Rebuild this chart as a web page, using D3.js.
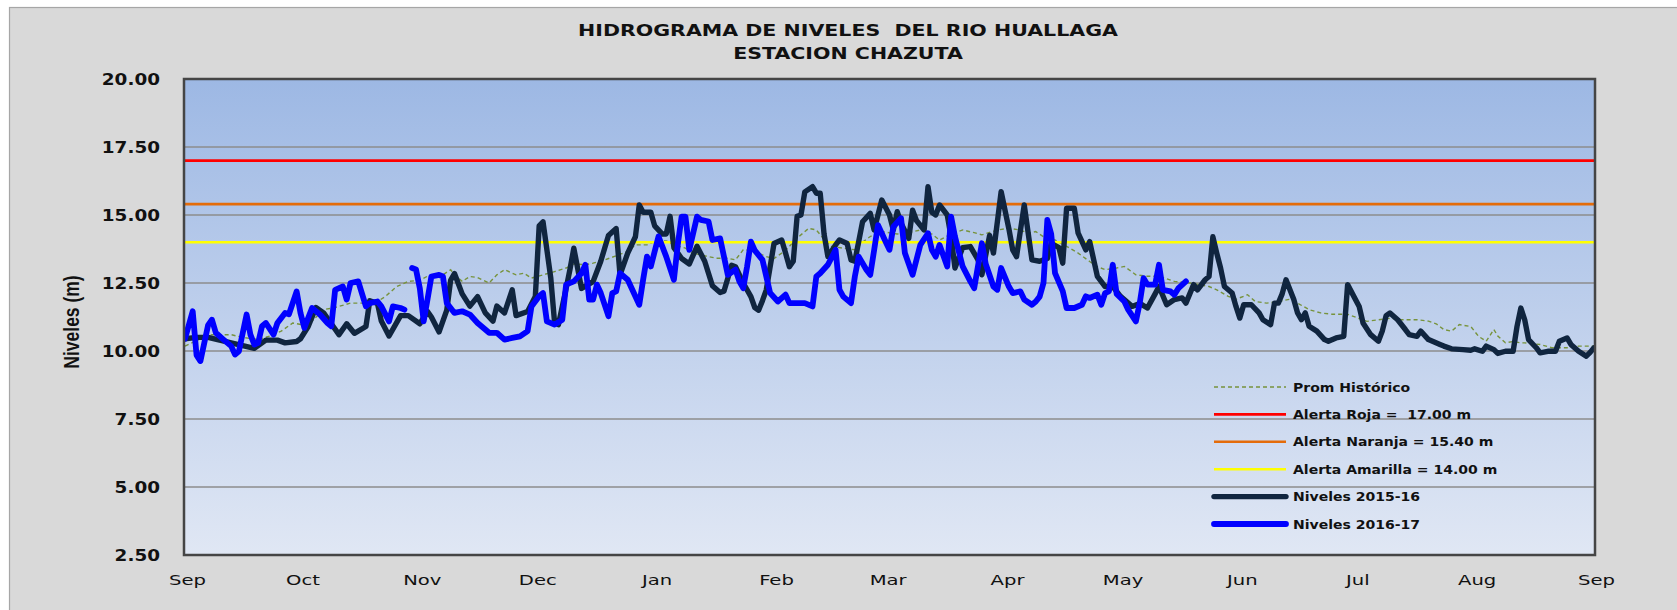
<!DOCTYPE html>
<html>
<head>
<meta charset="utf-8">
<script src="https://cdn.jsdelivr.net/npm/d3@7"></script>
<style>
  body { margin: 0; background: #ffffff; }
  svg { display: block; }
</style>
</head>
<body>
<script>
'use strict';

// ---- values ----
const titulo = ["HIDROGRAMA DE NIVELES  DEL RIO HUALLAGA", "ESTACION CHAZUTA"];
const ejeY = "Niveles (m)";
const inicio = new Date(2015, 8, 1);   // 1 Sep 2015
const fin = new Date(2016, 8, 1);      // 1 Sep 2016
const yTicks = [2.5, 5, 7.5, 10, 12.5, 15, 17.5, 20];

const alertas = [17.0, 15.4, 14.0];
const alertaColores = ["#ff0000", "#e46c0a", "#ffff00"];

const leyenda = ["Prom Histórico", "Alerta Roja =  17.00 m", "Alerta Naranja = 15.40 m",
                 "Alerta Amarilla = 14.00 m", "Niveles 2015-16", "Niveles 2016-17"];

// days counted from 1 Sep of each hydrological year
const diasProm = [0,4,7,12,15,19,22,25,28,31,33,36,39,43,46,50,52,55,58,61,63,65,67,69,70,72,74,76,79,81,83,86,88,90,93,96,99,101,104,106,109,112,115,117,120,122,125,127,130,132,135,138,141,143,145,147,149,151,153,156,158,160,162,164,166,168,171,174,176,178,181,185,188,191,194,196,199,202,205,207,211,214,217,219,221,223,226,229,232,235,237,239,242,244,247,250,253,257,261,263,266,268,271,273,276,278,281,284,287,289,292,295,298,302,307,310,313,316,320,323,325,327,329,331,334,336,338,340,341,343,345,347,348,352,355,359,362,366];
const promHistorico = [10.18,10.45,10.6,10.6,10.5,10.42,10.55,10.73,11.03,10.95,11.1,11.52,11.6,11.76,11.76,11.82,12.0,12.37,12.56,12.6,12.75,12.8,12.8,12.99,12.8,12.56,12.74,12.7,12.5,12.8,12.99,12.8,12.86,12.68,12.8,12.92,13.05,13.2,13.17,13.23,13.35,13.5,13.66,13.9,13.9,14.02,14.05,13.9,13.78,13.6,13.5,13.41,13.41,13.35,13.72,13.7,13.6,13.47,13.4,13.7,14.0,14.27,14.51,14.45,14.1,13.84,13.78,13.72,14.0,14.21,14.39,14.3,14.35,14.45,14.3,14.08,14.3,14.45,14.35,14.27,14.45,14.51,14.45,14.33,14.39,14.2,14.08,13.85,13.6,13.29,13.1,12.99,13.05,13.11,12.8,12.75,12.75,12.56,12.5,12.45,12.37,12.25,12.01,11.9,12.07,11.82,11.76,11.82,11.9,11.76,11.52,11.4,11.35,11.35,11.09,11.15,11.2,11.15,11.15,11.1,11.0,10.79,10.73,10.97,10.9,10.54,10.36,10.79,10.55,10.3,10.35,10.3,10.3,10.24,10.12,10.12,10.18,10.18];

const dias1516 = [0,3,6,9,12,15,18,21,24,26,29,30,32,34,36,38,40,42,44,47,48,50,51,53,56,58,61,63,64,66,68,69,70,72,74,76,78,80,81,83,85,86,89,91,92,93,95,96,97,99,100,101,103,106,108,110,112,113,115,117,118,119,121,122,124,125,126,127,129,131,133,135,137,139,140,142,143,145,147,148,149,150,151,153,155,156,157,158,159,160,161,163,164,165,166,167,169,170,172,173,174,176,178,179,181,183,184,185,186,188,189,190,192,193,194,195,196,198,199,200,202,204,206,207,209,210,212,214,215,216,218,220,222,224,225,227,228,229,231,232,234,235,237,239,241,243,246,248,250,252,253,255,257,259,260,262,263,265,266,267,268,269,270,272,273,274,275,277,279,280,282,283,284,285,286,288,289,290,291,292,294,296,297,299,301,302,305,306,308,310,311,312,313,315,317,318,320,321,323,326,327,329,332,334,335,337,338,340,341,343,345,346,347,348,349,351,352,354,356,357,359,360,362,364,365,366];
const niveles1516 = [10.45,10.5,10.5,10.4,10.3,10.2,10.1,10.4,10.4,10.3,10.35,10.45,10.9,11.6,11.4,11.0,10.6,11.0,10.65,10.9,11.85,11.75,11.1,10.55,11.3,11.3,11.0,11.45,11.25,10.7,11.5,12.6,12.85,12.1,11.65,12.0,11.4,11.1,11.65,11.4,12.25,11.3,11.45,12.0,14.6,14.75,12.7,11.05,10.97,12.3,13.0,13.78,12.3,12.55,13.3,14.25,14.5,12.8,13.6,14.2,15.37,15.1,15.1,14.6,14.3,14.3,14.95,13.8,13.4,13.2,13.85,13.3,12.4,12.15,12.2,13.15,13.1,12.5,12.0,11.6,11.5,11.85,12.25,13.95,14.08,13.6,13.1,13.3,14.95,15.0,15.85,16.04,15.8,15.8,14.3,13.47,13.9,14.08,13.95,13.35,13.3,14.75,15.06,14.45,15.55,15.0,14.45,15.12,14.7,14.14,15.18,14.8,14.45,16.04,15.1,15.0,15.37,15.0,14.2,13.05,13.8,13.84,13.35,12.8,14.25,13.6,15.86,14.5,13.72,13.47,15.37,13.35,13.3,13.4,13.96,13.8,13.23,15.25,15.25,14.33,13.72,14.02,12.74,12.37,12.37,12.01,11.64,11.75,11.58,12.1,12.37,11.7,11.89,11.95,11.76,12.44,12.25,12.62,12.74,14.2,13.6,13.05,12.37,12.13,11.64,11.21,11.7,11.7,11.4,11.15,10.97,11.76,11.76,12.1,12.62,11.9,11.4,11.15,11.4,10.91,10.73,10.42,10.36,10.48,10.54,12.44,11.64,11.03,10.6,10.36,10.73,11.3,11.4,11.15,10.79,10.6,10.54,10.73,10.42,10.24,10.18,10.08,10.05,10.03,10.08,9.99,10.18,10.05,9.91,9.99,9.99,10.9,11.58,11.15,10.42,10.12,9.93,9.99,9.99,10.36,10.48,10.24,9.99,9.81,9.95,10.12];

const dias1617 = [0,2,3,4,6,7,8,10,12,13,14,16,17,18,19,20,21,23,24,26,27,29,30,31,33,35,37,38,39,41,42,43,45,47,48,50,51,53,54,56,57,58,59,60,61,62,63,64,66,67,68,70,72,74,76,79,81,83,85,87,89,90,92,93,94,96,98,99,101,103,104,105,106,107,108,110,111,112,113,115,118,119,120,121,123,125,127,128,129,130,131,133,134,136,137,139,140,141,143,144,145,146,147,148,150,151,152,154,156,157,160,161,163,164,165,167,169,170,171,173,174,175,177,178,179,180,182,183,184,186,187,189,190,191,193,194,195,196,198,199,200,202,204,205,207,208,210,211,212,214,215,217,218,220,221,222,223,224,225,226,228,229,231,233,234,235,237,238,239,240,241,242,244,245,247,248,249,250,252,253,254,256,257,258,260];
const niveles1617 = [10.45,11.46,9.85,9.63,10.95,11.15,10.67,10.42,10.18,9.87,9.99,11.34,10.6,10.24,10.3,10.91,11.03,10.6,11.03,11.4,11.35,12.19,11.4,10.85,11.58,11.35,11.03,10.91,12.25,12.37,11.89,12.5,12.56,11.64,11.76,11.82,11.64,11.09,11.64,11.58,11.52,null,13.05,13.0,12.3,11.09,11.9,12.74,12.8,12.74,11.76,11.4,11.46,11.34,11.03,10.67,10.67,10.42,10.48,10.54,10.73,11.64,12.01,12.13,11.09,10.97,11.15,12.44,12.56,12.86,13.17,11.89,11.89,12.44,12.13,11.28,12.13,12.19,12.86,12.62,11.7,12.62,13.47,13.11,14.21,13.47,12.62,13.9,14.94,14.94,13.72,14.94,14.82,14.76,14.08,14.14,13.47,12.8,12.99,12.56,12.31,13.1,14.02,13.7,13.35,12.74,12.13,11.82,12.07,11.76,11.76,11.76,11.64,12.74,12.86,13.17,13.72,12.25,12.0,11.76,12.74,13.47,12.99,12.8,13.7,14.63,14.02,13.72,14.57,14.88,13.6,12.8,13.35,13.9,14.33,13.72,13.47,13.9,13.11,14.94,14.21,13.11,12.56,12.31,13.96,13.2,12.37,12.25,13.05,12.37,12.13,12.19,11.89,11.7,11.82,12.0,12.5,14.82,14.3,12.86,12.2,11.58,11.58,11.7,12.01,11.95,12.07,11.7,12.13,12.19,13.17,12.1,11.82,11.52,11.09,11.76,12.68,12.44,12.44,13.17,12.25,12.19,12.07,12.3,12.56];

// ---- layout ----
const W = 1677, H = 610;
const plot = { left: 184, top: 79, right: 1595, bottom: 555 };

const svg = d3.select('body').append('svg')
  .attr('width', W)
  .attr('height', H);

// grey chart panel
svg.append('rect')
  .attr('x', 9.5).attr('y', 7.5)
  .attr('width', W).attr('height', H)
  .style('fill', '#d9d9d9')
  .style('stroke', '#a6a6a6')
  .style('stroke-width', 1.2);

const defs = svg.append('defs');
const grad = defs.append('linearGradient')
  .attr('id', 'fondo')
  .attr('x1', 0).attr('y1', 0).attr('x2', 0).attr('y2', 1);
grad.append('stop').attr('offset', '0%').attr('stop-color', '#9db8e4');
grad.append('stop').attr('offset', '100%').attr('stop-color', '#e0e7f4');

defs.append('clipPath').attr('id', 'recorte')
  .append('rect')
  .attr('x', plot.left).attr('y', plot.top)
  .attr('width', plot.right - plot.left)
  .attr('height', plot.bottom - plot.top);

// scales
const x = d3.scaleTime().domain([inicio, fin]).range([plot.left + 1, plot.right - 1]);
const y = d3.scaleLinear().domain([2.5, 20]).range([plot.bottom, plot.top]);

// plot background
svg.append('rect')
  .attr('x', plot.left).attr('y', plot.top)
  .attr('width', plot.right - plot.left)
  .attr('height', plot.bottom - plot.top)
  .style('fill', 'url(#fondo)');

// gridlines
svg.append('g').selectAll('line')
  .data(yTicks)
  .enter().append('line')
  .attr('x1', plot.left).attr('x2', plot.right)
  .attr('y1', d => y(d)).attr('y2', d => y(d))
  .style('stroke', '#8c8c8c')
  .style('stroke-width', 1.4);

// series helpers
function serie(dias, valores) {
  return dias.map((d, i) => ({ fecha: d3.timeDay.offset(inicio, d), v: valores[i] }));
}
const linea = d3.line()
  .defined(d => d.v !== null)
  .x(d => x(d.fecha))
  .y(d => y(d.v));

const capa = svg.append('g').attr('clip-path', 'url(#recorte)');

// historical average (dashed)
capa.append('path')
  .datum(serie(diasProm, promHistorico))
  .attr('d', linea)
  .style('fill', 'none')
  .style('stroke', '#77933c')
  .style('stroke-width', 1.4)
  .style('stroke-dasharray', '4,3');

// alert levels
capa.selectAll('.alerta')
  .data(alertas)
  .enter().append('line')
  .attr('class', 'alerta')
  .attr('x1', plot.left).attr('x2', plot.right)
  .attr('y1', d => y(d)).attr('y2', d => y(d))
  .style('stroke', (d, i) => alertaColores[i])
  .style('stroke-width', 2.6);

// 2015-16 levels
capa.append('path')
  .datum(serie(dias1516, niveles1516))
  .attr('d', linea)
  .style('fill', 'none')
  .style('stroke', '#10253f')
  .style('stroke-width', 5.4)
  .style('stroke-linejoin', 'round')
  .style('stroke-linecap', 'round');

// 2016-17 levels
capa.append('path')
  .datum(serie(dias1617, niveles1617))
  .attr('d', linea)
  .style('fill', 'none')
  .style('stroke', '#0000ff')
  .style('stroke-width', 5.8)
  .style('stroke-linejoin', 'round')
  .style('stroke-linecap', 'round');

// plot border
svg.append('rect')
  .attr('x', plot.left).attr('y', plot.top)
  .attr('width', plot.right - plot.left)
  .attr('height', plot.bottom - plot.top)
  .style('fill', 'none')
  .style('stroke', '#454545')
  .style('stroke-width', 2.5);

// y axis labels
const yAxis = d3.axisLeft(y).tickValues(yTicks).tickSize(0).tickFormat(d3.format('.2f'));
const gy = svg.append('g')
  .attr('transform', 'translate(160,0)')
  .call(yAxis);
gy.select('.domain').remove();
gy.selectAll('text')
  .attr('x', 0)
  .attr('transform', 'scale(1.15,1)')
  .style('font-family', '"DejaVu Sans", Verdana, sans-serif')
  .style('font-weight', 'bold')
  .style('font-size', '16px')
  .style('fill', '#111');

// x axis labels
const xAxis = d3.axisBottom(x).ticks(d3.timeMonth.every(1)).tickSize(0).tickFormat(d3.timeFormat('%b'));
const gx = svg.append('g')
  .attr('transform', 'translate(0,' + plot.bottom + ')')
  .call(xAxis);
gx.select('.domain').remove();
gx.selectAll('text')
  .attr('y', 20)
  .attr('transform', 'translate(2,0) scale(1.4,1)')
  .style('font-family', '"DejaVu Sans", Verdana, sans-serif')
  .style('font-size', '14px')
  .style('fill', '#111');

// titles
svg.selectAll('.titulo')
  .data(titulo)
  .enter().append('text')
  .attr('class', 'titulo')
  .attr('transform', (d, i) => 'translate(848,' + (36 + i * 22.5) + ') scale(1.37,1)')
  .attr('text-anchor', 'middle')
  .style('white-space', 'pre')
  .style('font-family', '"DejaVu Sans", Verdana, sans-serif')
  .style('font-weight', 'bold')
  .style('font-size', '15px')
  .style('fill', '#111')
  .text(d => d);

// y axis title
svg.append('text')
  .attr('transform', 'translate(79,322) scale(1.3,1) rotate(-90)')
  .attr('text-anchor', 'middle')
  .style('font-family', '"Liberation Sans", Arial, sans-serif')
  .style('font-weight', 'bold')
  .style('font-size', '17.5px')
  .style('fill', '#111')
  .text(ejeY);

// legend
const estilos = [
  { color: '#77933c', ancho: 1.4, guion: '4,3' },
  { color: alertaColores[0], ancho: 2.6, guion: null },
  { color: alertaColores[1], ancho: 2.6, guion: null },
  { color: alertaColores[2], ancho: 2.6, guion: null },
  { color: '#10253f', ancho: 5.4, guion: null },
  { color: '#0000ff', ancho: 5.8, guion: null }
];
const items = svg.selectAll('.leyenda')
  .data(leyenda)
  .enter().append('g')
  .attr('class', 'leyenda')
  .attr('transform', (d, i) => 'translate(1214,' + (387 + i * 27.4) + ')');

items.append('line')
  .attr('x1', 0).attr('x2', 72)
  .style('stroke', (d, i) => estilos[i].color)
  .style('stroke-width', (d, i) => estilos[i].ancho)
  .style('stroke-dasharray', (d, i) => estilos[i].guion)
  .style('stroke-linecap', (d, i) => i >= 4 ? 'round' : 'butt');

items.append('text')
  .attr('transform', 'translate(79,4.6) scale(1.08,1)')
  .style('white-space', 'pre')
  .style('font-family', '"DejaVu Sans", Verdana, sans-serif')
  .style('font-weight', 'bold')
  .style('font-size', '13px')
  .style('fill', '#111')
  .text(d => d);
</script>
</body>
</html>
